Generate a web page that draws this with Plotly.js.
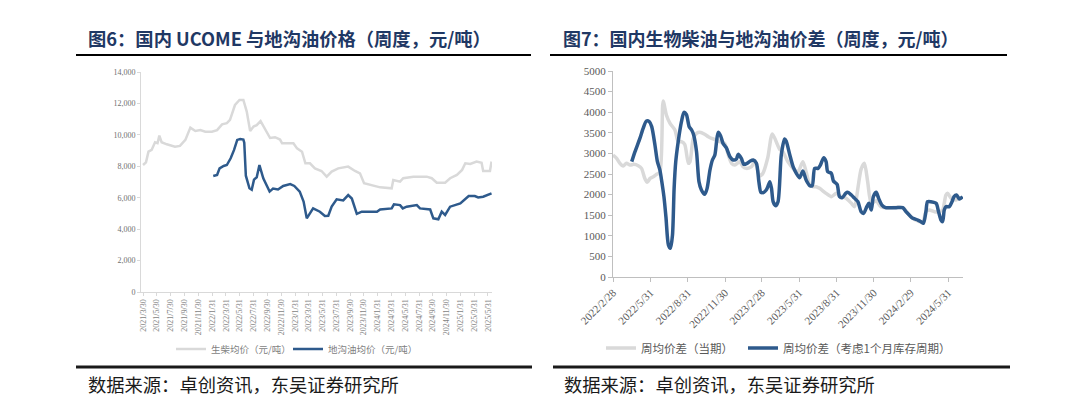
<!DOCTYPE html>
<html><head><meta charset="utf-8">
<script src="https://cdn.plot.ly/plotly-3.0.1.min.js"></script>
<style>html,body{margin:0;padding:0;background:#fff}#chart{width:1080px;height:414px}</style>
</head><body><div id="chart"></div>
<script>
// ---------- Figure 6 data ----------
const leftTickVals = ['2021-03-30','2021-05-30','2021-07-30','2021-09-30','2021-11-30','2022-01-31','2022-03-31','2022-05-31','2022-07-31','2022-09-30','2022-11-30','2023-01-31','2023-03-31','2023-05-31','2023-07-31','2023-09-30','2023-11-30','2024-01-31','2024-03-31','2024-05-31','2024-07-31','2024-09-30','2024-11-30','2025-01-31','2025-03-31','2025-05-31'];
const leftTickText = ['2021/3/30','2021/5/30','2021/7/30','2021/9/30','2021/11/30','2022/1/31','2022/3/31','2022/5/31','2022/7/31','2022/9/30','2022/11/30','2023/1/31','2023/3/31','2023/5/31','2023/7/31','2023/9/30','2023/11/30','2024/1/31','2024/3/31','2024/5/31','2024/7/31','2024/9/30','2024/11/30','2025/1/31','2025/3/31','2025/5/31'];

const biodieselDates = ['2021-03-30','2021-04-12','2021-04-23','2021-05-07','2021-05-22','2021-06-02','2021-06-10','2021-06-20','2021-07-13','2021-08-18',
  '2021-09-09','2021-10-03','2021-10-25','2021-11-16','2021-12-08','2021-12-30','2022-01-28','2022-02-20','2022-03-14','2022-04-04',
  '2022-04-18','2022-05-10','2022-05-30','2022-06-16','2022-07-01','2022-07-16','2022-07-31','2022-08-14','2022-08-31','2022-09-10',
  '2022-09-27','2022-10-12','2022-11-03','2022-11-25','2022-12-04','2023-01-23','2023-02-08','2023-03-02','2023-03-17','2023-04-06',
  '2023-04-28','2023-05-27','2023-06-19','2023-07-11','2023-08-09','2023-09-22','2023-10-22','2023-11-13','2023-12-01','2023-12-27',
  '2024-02-10','2024-04-01','2024-04-08','2024-05-08','2024-05-22','2024-07-06','2024-09-03','2024-09-25','2024-10-17','2024-11-23',
  '2024-12-15','2025-01-14','2025-02-06','2025-02-20','2025-03-14','2025-04-11','2025-05-03','2025-05-10','2025-06-09','2025-06-16'];
const biodieselPrice = [8080,8250,8930,9040,9530,9470,9950,9530,9400,9250,
  9300,9680,10460,10250,10300,10200,10200,10300,10670,10740,
  10950,11900,12220,12220,11480,10250,10530,10620,10880,10620,
  10100,9800,9850,9700,9460,9460,9140,8930,8190,8190,
  7870,7700,7340,7660,7870,7980,7700,7550,6920,6810,
  6660,6600,7130,7020,7240,7340,7340,7240,6960,6960,
  7240,7450,7770,8190,8150,8300,8230,7700,7700,8300];

const ucoDates = ['2022-02-03','2022-02-20','2022-03-03','2022-03-21','2022-04-04','2022-04-21','2022-05-06','2022-05-20','2022-06-02','2022-06-16',
  '2022-06-20','2022-06-27','2022-07-13','2022-07-23','2022-08-02','2022-08-14','2022-08-26','2022-09-12','2022-10-10','2022-10-25',
  '2022-11-16','2022-12-09','2023-01-09','2023-01-27','2023-02-20','2023-03-09','2023-03-23','2023-04-20','2023-05-20','2023-06-11',
  '2023-06-26','2023-07-11','2023-08-02','2023-08-31','2023-09-22','2023-10-08','2023-10-30','2023-11-21','2024-01-27','2024-02-10',
  '2024-04-01','2024-04-11','2024-05-08','2024-05-20','2024-06-06','2024-07-21','2024-08-04','2024-09-18','2024-10-02','2024-10-24',
  '2024-11-08','2024-11-23','2024-12-15','2025-01-29','2025-03-07','2025-04-03','2025-04-18','2025-05-10','2025-06-16'];
const ucoPrice = [7380,7450,7870,8020,8080,8510,9040,9680,9740,9700,
  9500,7400,6600,6510,7150,7300,8080,7240,6390,6580,
  6520,6750,6870,6750,6390,5750,4690,5320,5110,4840,
  4850,5430,5900,5830,6170,5950,4970,5110,5110,5250,
  5320,5580,5530,5320,5430,5530,5320,5250,4690,4630,
  5110,4900,5430,5640,6110,6110,6020,6060,6280];

// ---------- Figure 7 data ----------
const rightTickVals = ['2022-02-28','2022-05-31','2022-08-31','2022-11-30','2023-02-28','2023-05-31','2023-08-31','2023-11-30','2024-02-29','2024-05-31'];
const rightTickText = ['2022/2/28','2022/5/31','2022/8/31','2022/11/30','2023/2/28','2023/5/31','2023/8/31','2023/11/30','2024/2/29','2024/5/31'];

const spreadNowDates = ['2022-02-28','2022-03-09','2022-03-17','2022-03-25','2022-04-02','2022-04-11','2022-04-20','2022-05-01','2022-05-09','2022-05-17',
  '2022-05-23','2022-05-30','2022-06-07','2022-06-15','2022-06-23','2022-07-01','2022-07-09','2022-07-18','2022-07-30','2022-08-07',
  '2022-08-15','2022-08-23','2022-09-01','2022-09-05','2022-09-13','2022-09-21','2022-09-29','2022-10-11','2022-10-20','2022-10-28',
  '2022-11-09','2022-11-17','2022-11-29','2022-12-08','2022-12-16','2022-12-24','2023-01-05','2023-01-13','2023-01-21','2023-02-03',
  '2023-02-11','2023-02-23','2023-03-03','2023-03-15','2023-03-26','2023-04-13','2023-04-21','2023-05-03','2023-05-16','2023-05-28',
  '2023-06-09','2023-06-17','2023-06-26','2023-07-04','2023-07-12','2023-07-20','2023-08-05','2023-08-18','2023-08-30','2023-09-11',
  '2023-09-23','2023-10-06','2023-10-14','2023-10-22','2023-10-30','2023-11-07','2023-11-15','2023-11-24','2023-12-06','2023-12-18',
  '2024-01-08','2024-02-09','2024-02-25','2024-03-06','2024-03-17','2024-03-29','2024-04-06','2024-04-14','2024-04-27','2024-05-09',
  '2024-05-17','2024-05-25','2024-05-29','2024-06-07','2024-06-19','2024-06-27','2024-07-04'];
const spreadNow = [2961,2880,2759,2694,2760,2718,2734,2702,2637,2395,
  2298,2395,2435,2492,2540,4271,3932,3729,3568,3285,
  3285,3220,2759,2800,3365,3487,3511,3463,3406,3365,
  3325,3285,3244,2961,2759,2718,2800,2678,2637,2678,
  2800,2450,2520,2900,3470,3100,3040,2800,2637,2556,
  2800,2556,2233,2192,2192,2152,2030,1950,2030,1950,
  1909,1788,1707,2152,2620,2759,2314,1790,1850,1700,
  1683,1683,1505,1410,1360,1320,1586,1626,1586,1586,
  1626,1990,2030,1909,1869,1909,1909];

const spreadLagDates = ['2022-04-15','2022-04-23','2022-05-05','2022-05-13','2022-05-21','2022-05-28','2022-06-03','2022-06-11','2022-06-17','2022-06-23',
  '2022-06-28','2022-07-03','2022-07-08','2022-07-14','2022-07-19','2022-07-24','2022-07-28','2022-08-01','2022-08-07','2022-08-15',
  '2022-08-21','2022-08-27','2022-09-03','2022-09-09','2022-09-14','2022-09-21','2022-09-27','2022-10-03','2022-10-11','2022-10-17',
  '2022-10-24','2022-10-30','2022-11-05','2022-11-09','2022-11-13','2022-11-19','2022-11-25','2022-12-03','2022-12-12','2022-12-20',
  '2022-12-28','2023-01-01','2023-01-09','2023-01-15','2023-01-23','2023-01-31','2023-02-07','2023-02-15','2023-02-21','2023-02-26',
  '2023-03-05','2023-03-11','2023-03-15','2023-03-20','2023-03-24','2023-03-28','2023-04-03','2023-04-09','2023-04-17','2023-04-25',
  '2023-04-29','2023-05-08','2023-05-16','2023-05-24','2023-06-01','2023-06-09','2023-06-17','2023-06-26','2023-07-02','2023-07-08',
  '2023-07-16','2023-07-22','2023-07-30','2023-08-05','2023-08-09','2023-08-18','2023-08-23','2023-09-01','2023-09-07','2023-09-14',
  '2023-09-22','2023-09-27','2023-10-06','2023-10-14','2023-10-22','2023-10-30','2023-11-05','2023-11-13','2023-11-18','2023-11-24',
  '2023-11-29','2023-12-06','2023-12-12','2023-12-20','2023-12-29','2024-01-12','2024-01-24','2024-02-09','2024-02-17','2024-02-25',
  '2024-03-05','2024-03-17','2024-03-25','2024-03-31','2024-04-06','2024-04-10','2024-04-18','2024-05-01','2024-05-07','2024-05-13',
  '2024-05-17','2024-05-21','2024-05-25','2024-06-02','2024-06-09','2024-06-14','2024-06-20','2024-06-27','2024-07-05'];
const spreadLag = [2800,3042,3365,3608,3786,3770,3649,3200,2800,2600,
  2300,1950,1450,777,696,1019,2152,2800,3285,3770,
  3996,3948,3649,3568,3446,3042,2314,2111,2006,2152,
  2597,2840,2961,3268,3511,3430,3244,3139,2920,2840,
  2864,2977,2880,2734,2759,2815,2840,2759,2314,2055,
  2055,2111,2192,2314,2152,1828,1731,1828,2961,3349,
  3300,2961,2678,2516,2411,2573,2354,2217,2217,2637,
  2637,2718,2896,2800,2556,2516,2330,2249,1950,1925,
  2030,2055,1990,1909,1828,1586,1545,1707,1788,1626,
  1950,2055,1909,1747,1683,1683,1683,1683,1586,1505,
  1424,1383,1343,1302,1586,1828,1828,1788,1586,1383,
  1343,1626,1707,1707,1828,1950,1990,1893,1950];

// ---------- styling ----------
const W = 1080, H = 414;
const px = v => v / W;
const py = v => 1 - v / H;
const SERIF = 'Liberation Serif, Times New Roman, DejaVu Serif, serif';
const CJK = 'Noto Sans CJK SC, sans-serif';
const GREY = '#D9D9D9';
const BLUE = '#2E5A8C';
const TITLE = '#1F3864';

const traces = [
  {x: biodieselDates, y: biodieselPrice, name: '生柴均价（元/吨）', type: 'scatter', mode: 'lines',
   xaxis: 'x', yaxis: 'y', legend: 'legend', line: {color: GREY, width: 2.5}, hoverinfo: 'skip'},
  {x: ucoDates, y: ucoPrice, name: '地沟油均价（元/吨）', type: 'scatter', mode: 'lines',
   xaxis: 'x', yaxis: 'y', legend: 'legend2', line: {color: BLUE, width: 2.5}, hoverinfo: 'skip'},
  {x: spreadNowDates, y: spreadNow, name: '周均价差（当期）', type: 'scatter', mode: 'lines',
   xaxis: 'x2', yaxis: 'y2', legend: 'legend3', line: {color: GREY, width: 3.5, shape: 'spline', smoothing: 0.7}, hoverinfo: 'skip'},
  {x: spreadLagDates, y: spreadLag, name: '周均价差（考虑1个月库存周期）', type: 'scatter', mode: 'lines',
   xaxis: 'x2', yaxis: 'y2', legend: 'legend4', line: {color: BLUE, width: 3.5, shape: 'spline', smoothing: 0.7}, hoverinfo: 'skip'}
];

function legendAt(xLeft, yMid, size, color) {
  return {orientation: 'h', x: px(xLeft), y: py(yMid), xanchor: 'left', yanchor: 'middle',
          font: {family: CJK, size: size, color: color}, bgcolor: 'rgba(0,0,0,0)'};
}

const layout = {
  width: W, height: H,
  margin: {l: 0, r: 0, t: 0, b: 0},
  paper_bgcolor: '#ffffff', plot_bgcolor: 'rgba(0,0,0,0)',
  showlegend: true,
  xaxis: {
    type: 'date', domain: [px(141), px(492)], anchor: 'y',
    range: ['2021-03-21', '2025-06-18'],
    tickmode: 'array', tickvals: leftTickVals, ticktext: leftTickText,
    tickangle: -90, tickfont: {family: SERIF, size: 8, color: '#7F7F7F'},
    showline: true, linecolor: '#D9D9D9', linewidth: 1,
    ticks: 'outside', ticklen: 3, tickcolor: '#D9D9D9',
    showgrid: false, zeroline: false, fixedrange: true
  },
  yaxis: {
    domain: [py(292), py(72)], anchor: 'x',
    range: [0, 14000], dtick: 2000, tickformat: ',d',
    tickfont: {family: SERIF, size: 8, color: '#6F6F6F'},
    showline: true, linecolor: '#D9D9D9', linewidth: 1,
    ticks: 'outside', ticklen: 3, tickcolor: '#D9D9D9',
    showgrid: false, zeroline: false, fixedrange: true
  },
  xaxis2: {
    type: 'date', domain: [px(613), px(963)], anchor: 'y2',
    range: ['2022-02-28', '2024-07-06'],
    tickmode: 'array', tickvals: rightTickVals, ticktext: rightTickText,
    tickangle: -45, tickfont: {family: SERIF, size: 11, color: '#595959'},
    showline: true, linecolor: '#BFBFBF', linewidth: 1,
    ticks: 'outside', ticklen: 4, tickcolor: '#BFBFBF',
    showgrid: false, zeroline: false, fixedrange: true
  },
  yaxis2: {
    domain: [py(277), py(71)], anchor: 'x2',
    range: [0, 5000], dtick: 500, tickformat: 'd',
    tickfont: {family: SERIF, size: 11, color: '#595959'},
    showline: true, linecolor: '#BFBFBF', linewidth: 1,
    ticks: 'outside', ticklen: 4, tickcolor: '#BFBFBF',
    showgrid: false, zeroline: false, fixedrange: true
  },
  legend: legendAt(171, 349, 9.5, '#7F7F7F'),
  legend2: legendAt(288, 349, 9.5, '#7F7F7F'),
  legend3: legendAt(601, 348, 11.5, '#595959'),
  legend4: legendAt(743, 348, 11.5, '#595959'),
  shapes: [
    {type: 'line', xref: 'paper', yref: 'paper', x0: px(76), x1: px(531), y0: py(55), y1: py(55), line: {color: '#000000', width: 2}},
    {type: 'line', xref: 'paper', yref: 'paper', x0: px(550), x1: px(1007), y0: py(55), y1: py(55), line: {color: '#000000', width: 2}},
    {type: 'line', xref: 'paper', yref: 'paper', x0: px(76), x1: px(532), y0: py(367), y1: py(367), line: {color: '#1a1a1a', width: 3}},
    {type: 'line', xref: 'paper', yref: 'paper', x0: px(553), x1: px(1010), y0: py(367), y1: py(367), line: {color: '#1a1a1a', width: 3}}
  ],
  annotations: [
    {text: '<b>图6：国内 UCOME 与地沟油价格（周度，元/吨）</b>', xref: 'paper', yref: 'paper', x: px(86), y: py(38),
     xanchor: 'left', yanchor: 'middle', showarrow: false, font: {family: CJK, size: 18.3, color: TITLE}},
    {text: '<b>图7：国内生物柴油与地沟油价差（周度，元/吨）</b>', xref: 'paper', yref: 'paper', x: px(561), y: py(38),
     xanchor: 'left', yanchor: 'middle', showarrow: false, font: {family: CJK, size: 18, color: TITLE}},
    {text: '数据来源：卓创资讯，东吴证券研究所', xref: 'paper', yref: 'paper', x: px(86), y: py(384),
     xanchor: 'left', yanchor: 'middle', showarrow: false, font: {family: CJK, size: 18.3, color: '#1a1a1a'}},
    {text: '数据来源：卓创资讯，东吴证券研究所', xref: 'paper', yref: 'paper', x: px(562), y: py(384),
     xanchor: 'left', yanchor: 'middle', showarrow: false, font: {family: CJK, size: 18.3, color: '#1a1a1a'}}
  ]
};

Plotly.newPlot('chart', traces, layout, {displayModeBar: false, staticPlot: true});
</script>
</body></html>
